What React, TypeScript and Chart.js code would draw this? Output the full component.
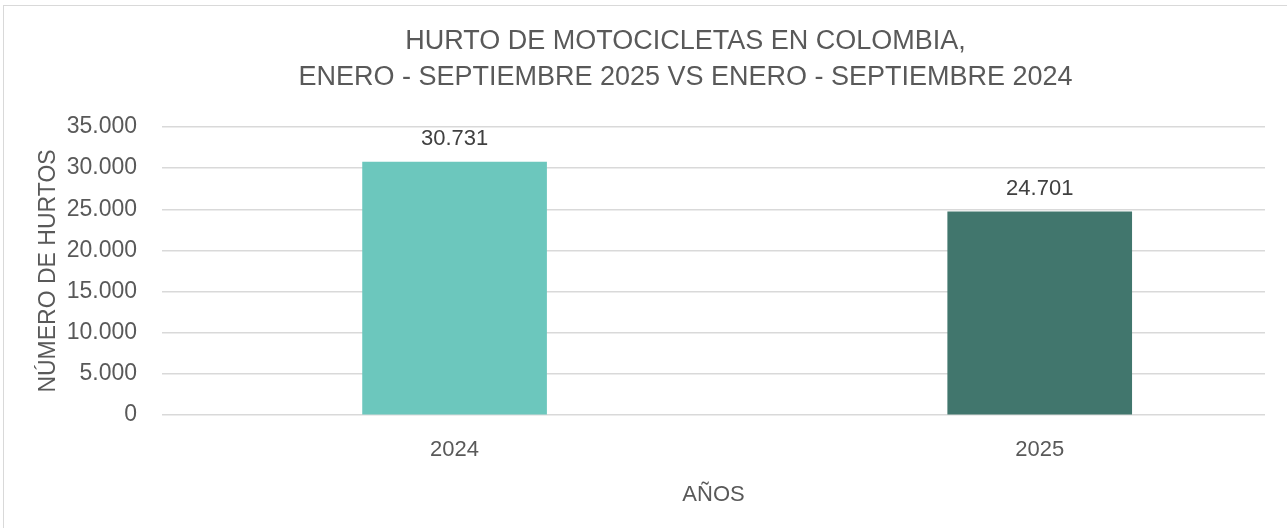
import React, { useEffect, useRef } from "react";
import { Chart, registerables } from "chart.js";

Chart.register(...registerables);

const titleLines = [
  "HURTO DE MOTOCICLETAS EN COLOMBIA,",
  "ENERO - SEPTIEMBRE 2025 VS ENERO - SEPTIEMBRE 2024",
];
const categories = ["2024", "2025"];
const values = [30731, 24701];
const barColors = ["#6CC7BD", "#41766D"];
const yTicks = [0, 5000, 10000, 15000, 20000, 25000, 30000, 35000];
const yAxisTitle = "NÚMERO DE HURTOS";
const xAxisTitle = "AÑOS";

const FONT = "'Liberation Sans', Arial, sans-serif";
const TEXT = "#595959";

const fmt = (v: number) =>
  String(Math.round(v)).replace(/\B(?=(\d{3})+(?!\d))/g, ".");

const labelPlugin = {
  id: "barLabels",
  afterDatasetsDraw(chart: any) {
    const ctx = chart.ctx;
    const meta = chart.getDatasetMeta(0);
    ctx.save();
    ctx.font = `22px ${FONT}`;
    ctx.fillStyle = "#404040";
    ctx.textAlign = "center";
    ctx.textBaseline = "middle";
    meta.data.forEach((bar: any, i: number) => {
      ctx.fillText(fmt(values[i]), bar.x, bar.y - 23);
    });
    ctx.restore();
  },
};

export default function App() {
  const ref = useRef<HTMLCanvasElement>(null);
  useEffect(() => {
    if (!ref.current) return;
    const chart = new Chart(ref.current, {
      type: "bar",
      data: {
        datasets: [
          {
            data: categories.map((c, i) => ({ x: i, y: values[i] })),
            backgroundColor: barColors,
            barThickness: 184,
          },
        ],
      },
      options: {
        animation: false,
        responsive: false,
        maintainAspectRatio: false,
        layout: { padding: 0 },
        plugins: {
          legend: { display: false },
          tooltip: { enabled: false },
          title: {
            display: true,
            text: titleLines,
            color: TEXT,
            font: { family: FONT, size: 27, weight: "normal", lineHeight: 36 / 27 },
            padding: { top: 24, bottom: 31 },
          },
        },
        scales: {
          x: {
            type: "linear",
            offset: false,
            grace: 0,
            min: -0.5,
            max: 1.385,
            grid: { display: false, drawTicks: false, offset: false },
            border: { display: false },
            afterBuildTicks: (s: any) => {
              s.ticks = categories.map((_, i) => ({ value: i }));
            },
            afterFit: (s: any) => {
              s.height = 113;
            },
            ticks: {
              color: TEXT,
              font: { family: FONT, size: 22 },
              padding: 22,
              maxRotation: 0,
              autoSkip: false,
              callback: (v: any) => categories[v] ?? "",
            },
            title: {
              display: true,
              text: xAxisTitle,
              color: TEXT,
              font: { family: FONT, size: 22 },
              padding: { top: 0, bottom: 20 },
            },
          },
          y: {
            min: 0,
            max: 35000,
            afterBuildTicks: (s: any) => {
              s.ticks = yTicks.map((v) => ({ value: v }));
            },
            afterFit: (s: any) => {
              s.width = 162;
            },
            grid: { color: "#D9D9D9", lineWidth: 1.5, drawTicks: false },
            border: { display: false },
            ticks: {
              color: TEXT,
              font: { family: FONT, size: 23 },
              padding: 25,
              callback: (v: any) => fmt(Number(v)),
            },
            title: {
              display: true,
              text: yAxisTitle,
              color: TEXT,
              font: { family: FONT, size: 23 },
              padding: { top: 35, bottom: 0 },
            },
          },
          spacer: {
            type: "linear",
            position: "right",
            display: true,
            grid: { display: false, drawTicks: false },
            border: { display: false },
            ticks: { display: false },
            afterFit: (s: any) => {
              s.width = 106;
            },
          },
        },
      },
      plugins: [labelPlugin],
    });
    return () => chart.destroy();
  }, []);

  return (
    <div
      style={{
        position: "fixed",
        left: 0,
        top: 0,
        width: 1287,
        height: 528,
        overflow: "hidden",
        background: "#fff",
      }}
    >
      <div
        style={{
          position: "absolute",
          left: 3,
          top: 5,
          width: 1320,
          height: 560,
          border: "1px solid #D9D9D9",
          boxSizing: "border-box",
        }}
      />
      <canvas
        ref={ref}
        width={1371}
        height={528}
        style={{ position: "absolute", left: 0, top: 0, width: 1371, height: 528 }}
      />
    </div>
  );
}
